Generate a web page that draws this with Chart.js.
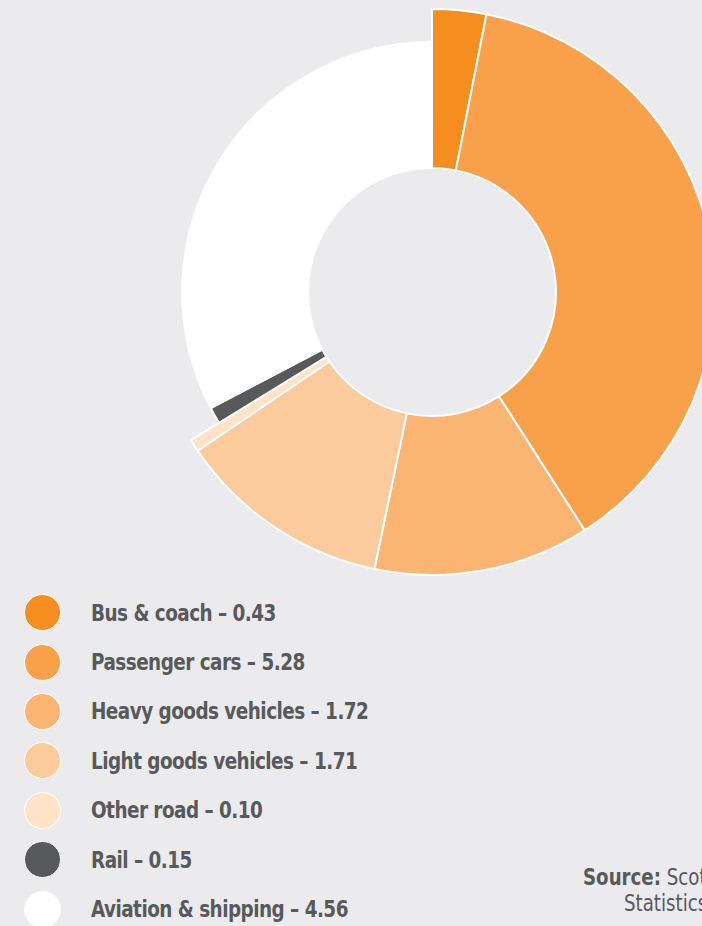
<!DOCTYPE html>
<html>
<head>
<meta charset="utf-8">
<script src="https://cdn.jsdelivr.net/npm/chart.js@4.4.1/dist/chart.umd.min.js"></script>
<style>
  html, body {
    margin: 0;
    padding: 0;
    width: 702px;
    height: 926px;
    overflow: hidden;
    background: #ebebed;
    font-family: "Liberation Sans Narrow", "DejaVu Sans Condensed", "Liberation Sans", sans-serif;
    color: #58595b;
  }
  #chart {
    position: absolute;
    left: 148px;
    top: 8px;
  }
  #legend {
    position: absolute;
    left: 24px;
    top: 588px;
  }
  .row {
    height: 49.4px;
    display: flex;
    align-items: center;
  }
  .dot {
    width: 35px;
    height: 35px;
    border-radius: 50%;
    border: 1.5px solid #fff;
    margin-right: 30px;
    flex: none;
  }
  .label {
    font-weight: bold;
    font-size: 23.5px;
    letter-spacing: -0.6px;
    white-space: nowrap;
    transform: scaleX(0.87);
    transform-origin: left center;
  }
  .source {
    position: absolute;
    font-size: 23px;
    white-space: nowrap;
    transform: scaleX(0.88);
    transform-origin: left center;
  }
</style>
</head>
<body>
<canvas id="chart" width="568" height="568"></canvas>
<div id="legend"></div>
<div class="source" style="left:583px; top:864px;"><b>Source:</b> Scottish Transport</div>
<div class="source" style="left:624px; top:890px;">Statistics</div>
<script>
// Emissions by transport mode
const categories = ['Bus & coach', 'Passenger cars', 'Heavy goods vehicles', 'Light goods vehicles', 'Other road', 'Rail', 'Aviation & shipping'];
const emissions = [0.43, 5.28, 1.72, 1.71, 0.10, 0.15, 4.56];
const valueLabels = ['0.43', '5.28', '1.72', '1.71', '0.10', '0.15', '4.56'];

const colours = ['#f68e1f', '#f8a14a', '#fab572', '#fccb9b', '#fee3c9', '#58595b', '#ffffff'];
// non-road modes are drawn with a shorter ring
const ringScale = [1, 1, 1, 1, 1, 0.883, 0.883];

const shortRing = {
    id: 'shortRing',
    afterDatasetsUpdate(chart) {
        const meta = chart.getDatasetMeta(0);
        meta.data.forEach((arc, i) => {
            arc.outerRadius = arc.outerRadius * ringScale[i];
        });
    }
};

const ctx = document.getElementById('chart').getContext('2d');
new Chart(ctx, {
    type: 'doughnut',
    data: {
        labels: categories,
        datasets: [{
            data: emissions,
            backgroundColor: colours,
            borderColor: '#ffffff',
            borderWidth: 2
        }]
    },
    options: {
        responsive: false,
        animation: false,
        events: [],
        cutout: '43.8%',
        layout: { padding: 0 },
        plugins: {
            legend: { display: false },
            tooltip: { enabled: false }
        }
    },
    plugins: [shortRing]
});

// Legend
const legend = document.getElementById('legend');
categories.forEach((name, i) => {
    const row = document.createElement('div');
    row.className = 'row';
    const dot = document.createElement('div');
    dot.className = 'dot';
    dot.style.background = colours[i];
    const label = document.createElement('div');
    label.className = 'label';
    label.textContent = name + ' \u2013 ' + valueLabels[i];
    row.appendChild(dot);
    row.appendChild(label);
    legend.appendChild(row);
});
</script>
</body>
</html>
